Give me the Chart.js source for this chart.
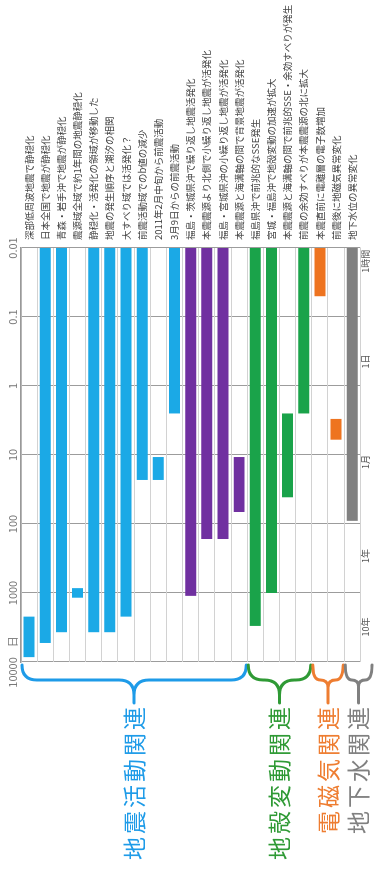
<!DOCTYPE html>
<html lang="ja">
<head>
<meta charset="utf-8">
<title>東北地方太平洋沖地震の前兆的現象</title>
<script src="https://cdn.jsdelivr.net/npm/chart.js@4.4.1/dist/chart.umd.min.js"></script>
<style>
  html, body { margin: 0; padding: 0; background: #fff; overflow: hidden; }
  body { width: 374px; height: 877px; position: relative; }
  /* the chart is drawn lying down and turned upright */
  #wrap { position: absolute; left: 0; top: 0; width: 877px; height: 374px;
          transform-origin: 0 0; transform: translate(0, 877px) rotate(-90deg); }
</style>
</head>
<body>
<div id="wrap"><canvas id="grafico" width="877" height="374"></canvas></div>
<script>
// categories (rows of the original chart)
const phenomena = [
  "深部低周波地震で静穏化",
  "日本全国で地震が静穏化",
  "青森・岩手沖で地震が静穏化",
  "震源域全域で約1年間の地震静穏化",
  "静穏化・活発化の領域が移動した",
  "地震の発生順序と潮汐の相関",
  "大すべり域では活発化？",
  "前震活動域でのb値の減少",
  "2011年2月中旬から前震活動",
  "3月9日からの前震活動",
  "福島・茨城県沖で繰り返し地震活発化",
  "本震震源より北側で小繰り返し地震が活発化",
  "福島・宮城県沖の小繰り返し地震が活発化",
  "本震震源と海溝軸の間で背景地震が活発化",
  "福島県沖で前兆的なSSE発生",
  "宮城・福島沖で地殻変動の加速が拡大",
  "本震震源と海溝軸の間で前兆的SSE・余効すべりが発生",
  "前震の余効すべりが本震震源の北に拡大",
  "本震直前に電離層の電子数増加",
  "前震後に地磁気異常変化",
  "地下水位の異常変化"
];

// days before the main shock: nearest end and farthest end of each period
const fromDays = [2200, 0.01, 0.01, 850, 0.01, 0.01, 0.01, 0.01, 10.7, 0.01,
                  0.01, 0.01, 0.01, 10.7, 0.01, 0.01, 2.5, 0.01, 0.01, 3, 0.01];
const toDays   = [8500, 5300, 3700, 1170, 3700, 3700, 2200, 23, 23, 2.5,
                  1100, 165, 165, 67, 3000, 1000, 41, 2.5, 0.05, 6, 90];
const kinds    = ["seis", "seis", "seis", "seis", "seis", "seis", "seis", "seis", "seis", "seis",
                  "rep", "rep", "rep", "rep", "crust", "crust", "crust", "crust", "em", "em", "water"];

// groups shown with braces
const groupNames = ["地震活動関連", "地殻変動関連", "電磁気関連", "地下水関連"];
const groupSizes = [14, 4, 2, 1];

// axis ticks
const dayTicks = [0.01, 0.1, 1, 10, 100, 1000, 10000];
const dayTickLabels = ["0.01", "0.1", "1", "10", "100", "1000", "10000    日"];
const periodTicks = [0.0155, 0.44, 12.6, 290, 3100];
const periodLabels = ["1時間", "1日", "1月", "1年", "10年"];

const kindColors = { seis: "#1ba9e6", rep: "#7030a0", crust: "#1aa34a", em: "#ee7420", water: "#808080" };
const groupColors = ["#1e9be8", "#2f9a35", "#ee7d31", "#808080"];

const fontFamily = '"Noto Sans CJK JP", "Noto Sans", sans-serif';
Chart.defaults.font.family = fontFamily;

// braces and group names on the left of the plot
const braces = {
  id: "braces",
  afterDraw(chart) {
    const c = chart.ctx;
    const y = chart.scales.y;
    const half = (y.getPixelForValue(1) - y.getPixelForValue(0)) / 2;
    const xEnd = chart.chartArea.left - 3;
    const xSpine = xEnd - 15;
    const xTip = xSpine - 23;
    let first = 0;
    groupNames.forEach((name, g) => {
      const last = first + groupSizes[g] - 1;
      const top = y.getPixelForValue(first) - half + 1;
      // a single row gets a brace a bit wider than the row
      const bottom = Math.min(Math.max(y.getPixelForValue(last) + half - 1, top + 28), chart.height - 2);
      const mid = (top + bottom) / 2;
      const r = Math.min(15, (bottom - top) / 4);
      c.save();
      c.strokeStyle = groupColors[g];
      c.lineWidth = 3;
      c.lineCap = "round";
      c.beginPath();
      c.moveTo(xEnd, top);
      c.quadraticCurveTo(xSpine, top, xSpine, top + r);
      c.lineTo(xSpine, mid - r);
      c.quadraticCurveTo(xSpine, mid, xSpine - r, mid);
      c.lineTo(xTip, mid);
      c.moveTo(xSpine - r, mid);
      c.quadraticCurveTo(xSpine, mid, xSpine, mid + r);
      c.lineTo(xSpine, bottom - r);
      c.quadraticCurveTo(xSpine, bottom, xEnd, bottom);
      c.stroke();

      c.fillStyle = groupColors[g];
      c.font = "23px " + fontFamily;
      c.letterSpacing = "3px";
      c.textAlign = "right";
      c.textBaseline = "middle";
      c.fillText(name, xTip - 1, mid);
      c.restore();
      first = last + 1;
    });
  }
};

const ctx = document.getElementById("grafico").getContext("2d");

new Chart(ctx, {
  type: "bar",
  data: {
    labels: phenomena,
    datasets: [{
      label: "前兆的現象の期間",
      data: fromDays.map((d, i) => [d, toDays[i]]),
      backgroundColor: kinds.map(k => kindColors[k]),
      barPercentage: 0.68,
      categoryPercentage: 1.0,
      borderSkipped: false
    }]
  },
  options: {
    indexAxis: "y",
    responsive: false,
    devicePixelRatio: 1,
    animation: false,
    layout: { padding: { left: 215 } },
    plugins: { legend: { display: false }, tooltip: { enabled: false } },
    scales: {
      x: {
        type: "logarithmic",
        position: "top",
        reverse: true,
        min: 0.01,
        max: 10000,
        afterBuildTicks: s => { s.ticks = dayTicks.map(v => ({ value: v })); },
        afterFit: s => { s.height = 21; },
        ticks: {
          callback: (v, i) => dayTickLabels[i],
          font: { size: 11 },
          color: "#777",
          padding: 2,
          maxRotation: 0,
          autoSkip: false
        },
        grid: { color: "#9c9c9c", drawTicks: false, lineWidth: 1 },
        border: { color: "#999", width: 1.5 }
      },
      x2: {
        type: "logarithmic",
        position: "bottom",
        reverse: true,
        min: 0.01,
        max: 10000,
        afterBuildTicks: s => { s.ticks = periodTicks.map(v => ({ value: v })); },
        afterFit: s => { s.height = 12.3; },
        ticks: {
          callback: (v, i) => periodLabels[i],
          font: { size: 9 },
          color: "#555",
          padding: 0,
          maxRotation: 0,
          autoSkip: false
        },
        grid: { display: false, drawTicks: false },
        border: { display: false }
      },
      y: {
        position: "right",
        afterFit: s => { s.width = 248; },
        ticks: { font: { size: 9.5 }, color: "#444", padding: 8, autoSkip: false },
        grid: { color: "#d2d2d2", drawTicks: false },
        border: { display: false }
      }
    }
  },
  plugins: [braces]
});
</script>
</body>
</html>
